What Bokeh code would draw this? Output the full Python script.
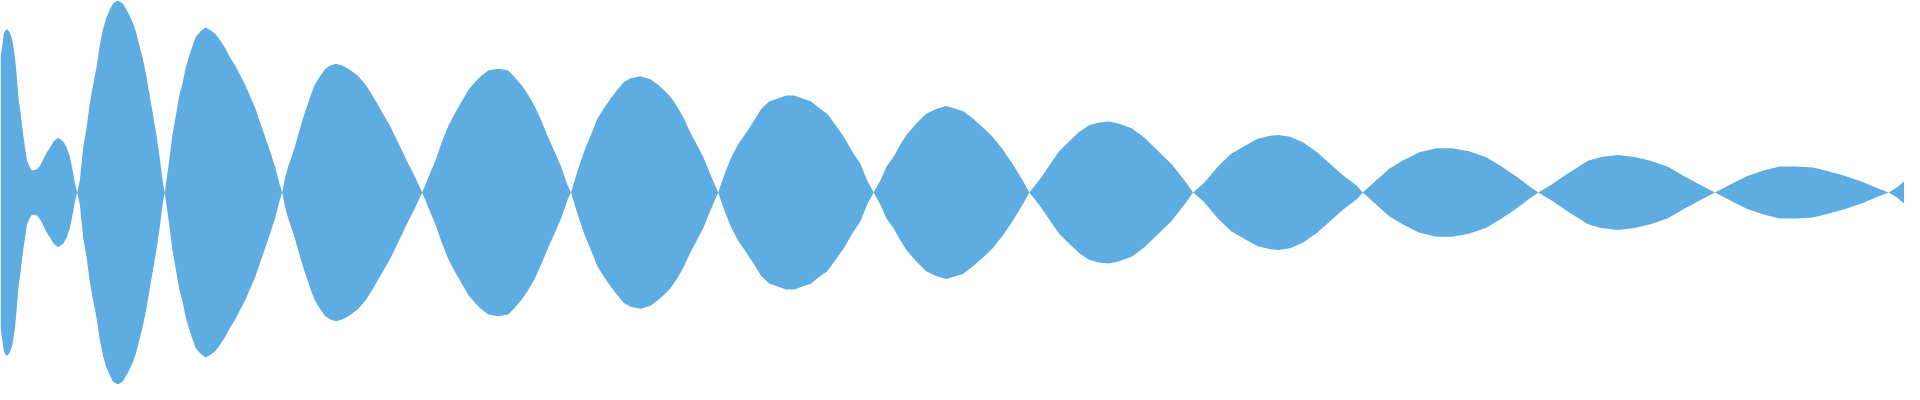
from bokeh.plotting import figure
from bokeh.models import Range1d, ColumnDataSource
from bokeh.embed import file_html
from bokeh.resources import INLINE

# sample position (x) and envelope amplitude of the waveform, lobe by lobe
t = [0, 1.7, 3.3, 5, 6.7, 9.3, 11.7, 13.3, 15, 16.7, 18.3, 20, 21.7, 23.3, 25, 26.7, 29.3,
     31.7, 36.7, 40, 43.3, 46.7, 50, 53.3, 58.3, 63.3, 66.7, 70, 72.7, 75, 77.3,
     80, 83.3, 86.7, 90, 93.3, 96.7, 100, 103.3, 106.7, 110, 113.3, 118.3, 123.3, 128.3,
     133.3, 136.7, 140, 143.3, 146.7, 150, 153.3, 156.7, 160, 163.3, 165.5,
     170, 173.3, 176.7, 180, 183.3, 186.7, 190, 193.3, 196.7, 201.7, 206.7, 211.7, 216.7,
     221.7, 226.7, 231.7, 236.7, 241.7, 246.7, 251.7, 256.7, 261.7, 266.7, 271.7, 276.7,
     281.7, 284,
     286.7, 290, 293.3, 296.7, 300, 303.3, 306.7, 310, 313.3, 316.7, 320, 323.3, 326.7,
     331.7, 338.3, 345, 351.7, 360, 368.3, 376.7, 385, 393.3, 401.7, 410, 418.3, 425,
     431.7, 438.3, 445, 451.7, 458.3, 465, 471.7, 478.3, 485, 491.7, 501.7, 511.7, 518.3,
     525, 531.7, 538.3, 545, 551.7, 558.3, 565, 571.7, 575,
     581.7, 588.3, 595, 601.7, 608.3, 615, 621.7, 628.3, 635, 645, 655, 661.7, 668.3,
     675, 681.7, 688.3, 695, 701.7, 708.3, 715, 723.3,
     730, 736.7, 743.3, 750, 758.3, 766.7, 775, 783.3, 791.7, 800, 808.3, 816.7, 825,
     833.3, 841.7, 850, 858.3, 866.7, 873.3, 880,
     887, 893, 900, 907, 913, 923, 933, 943, 953, 960, 970, 980, 990, 1000, 1010, 1020,
     1030, 1037,
     1047, 1057, 1067, 1077, 1087, 1097, 1107, 1117, 1127, 1140, 1153, 1167, 1180, 1193,
     1202,
     1213, 1227, 1240, 1253, 1267, 1280, 1288, 1300, 1313, 1327, 1340, 1353, 1367, 1373,
     1387, 1400, 1413, 1430, 1447, 1463, 1480, 1497, 1513, 1530, 1543, 1550,
     1563, 1580, 1600, 1613, 1630, 1647, 1663, 1680, 1697, 1713, 1728,
     1743, 1760, 1777, 1793, 1810, 1827, 1843, 1860, 1877, 1893, 1903,
     1911, 1919]

amplitude = [142, 152, 165, 169, 170, 167, 160, 150, 137, 117, 97, 85, 70, 57, 45, 33, 27,
             23, 24, 28, 35, 42, 47, 53, 57, 53, 47, 37, 23, 10, 0,
             13, 47, 67, 93, 112, 130, 153, 170, 182, 190, 197, 200, 197, 188,
             177, 167, 153, 140, 123, 103, 83, 63, 40, 13, 0,
             33, 60, 80, 100, 113, 130, 142, 152, 162, 168, 172, 169, 165,
             158, 150, 140, 132, 122, 112, 100, 88, 73, 58, 43, 27,
             7, 0,
             15, 27, 37, 48, 60, 72, 83, 93, 103, 112, 118, 123, 128,
             132, 134, 132, 128, 122, 112, 98, 83, 68, 50, 32, 15, 0,
             17, 33, 53, 70, 83, 95, 107, 115, 122, 127, 129, 127, 120,
             112, 102, 90, 75, 58, 43, 27, 7, 0,
             23, 43, 60, 77, 88, 98, 107, 115, 119, 121, 118, 113, 107,
             100, 90, 78, 63, 50, 37, 20, 0,
             20, 37, 50, 60, 73, 87, 95, 98, 101, 101, 98, 95, 88,
             82, 70, 58, 43, 30, 13, 0,
             13, 27, 37, 50, 60, 72, 82, 87, 90, 88, 85, 77, 68, 58, 45, 30,
             13, 0,
             13, 28, 43, 53, 63, 70, 73, 74, 72, 67, 57, 43, 30, 13,
             0,
             10, 27, 40, 48, 56, 59, 60, 58, 52, 42, 30, 18, 7, 0,
             13, 25, 33, 42, 46, 46, 43, 37, 27, 15, 5, 0,
             8, 20, 33, 37, 39, 37, 33, 27, 17, 8, 0,
             8, 17, 23, 27, 27, 26, 22, 17, 11, 4, 0,
             5, 12]

source = ColumnDataSource(data=dict(
    t=t,
    upper=amplitude,
    lower=[-a for a in amplitude],
))

p = figure(width=1904, height=384, output_backend="svg", toolbar_location=None,
           x_range=Range1d(0, 1919), y_range=Range1d(-200, 200),
           min_border=0, outline_line_color=None)
p.axis.visible = False
p.grid.visible = False
p.background_fill_color = "white"
p.border_fill_color = "white"

p.varea(x="t", y1="lower", y2="upper", source=source, fill_color="#5DADE2")

open("out.html", "w").write(file_html(p, INLINE))
